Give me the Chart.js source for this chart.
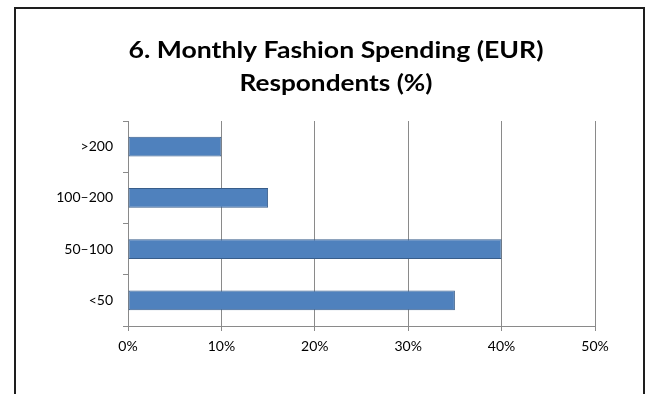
<!DOCTYPE html>
<html><head><meta charset="utf-8">
<script src="https://cdn.jsdelivr.net/npm/chart.js@4"></script>
<style>
html,body{margin:0;padding:0;background:#fff;}
#wrap{position:absolute;left:0;top:0;width:650px;height:394px;}
#frame{position:absolute;left:14px;top:7px;width:631px;height:400px;border:2px solid #1e1e1e;box-sizing:border-box;}
canvas{position:absolute;left:0;top:0;}
</style></head>
<body>
<div id="wrap"><div id="frame"></div><canvas id="c" width="650" height="394"></canvas></div>
<script>
const titleLines = ['6. Monthly Fashion Spending (EUR)', 'Respondents (%)'];
const categories = ['>200', '100–200', '50–100', '<50'];
const respondents = [10, 15, 40, 35];
const xTicks = [0, 10, 20, 30, 40, 50];

const titlePlugin = {
  id: 'wideTitle',
  afterDraw(chart) {
    const ctx = chart.ctx;
    const cx = 336;
    const baselines = [58, 91];
    const widths = [415, 193];
    ctx.save();
    ctx.fillStyle = '#000';
    ctx.font = 'bold 22px Lato';
    ctx.textAlign = 'center';
    ctx.textBaseline = 'alphabetic';
    titleLines.forEach((t, i) => {
      const w = ctx.measureText(t).width;
      const sx = widths[i] / w;
      ctx.save();
      ctx.translate(cx, baselines[i]);
      ctx.scale(sx, 1);
      ctx.fillText(t, 0, 0);
      ctx.restore();
    });
    ctx.restore();
  }
};

new Chart(document.getElementById('c'), {
  type: 'bar',
  data: {
    labels: categories,
    datasets: [{
      data: respondents,
      backgroundColor: '#4f81bd',
      borderColor: '#385d8a',
      borderWidth: 1,
      borderSkipped: false,
      categoryPercentage: 1,
      barPercentage: 0.39
    }]
  },
  options: {
    indexAxis: 'y',
    responsive: false,
    animation: false,
    layout: { padding: { left: 0, right: 55, top: 121, bottom: 0 } },
    plugins: {
      legend: { display: false },
      tooltip: { enabled: false },
      title: { display: false }
    },
    scales: {
      x: {
        min: 0, max: 50,
        afterBuildTicks: s => { s.ticks = xTicks.map(v => ({ value: v })); },
        afterFit: s => { s.height = 68; },
        ticks: { callback: v => v + '%', color: '#000', font: { family: 'Lato', size: 14 }, padding: 7 },
        grid: { color: '#8a8a8a', lineWidth: 1, tickLength: 5 },
        border: { color: '#8a8a8a', width: 1 }
      },
      y: {
        afterFit: s => { s.width = 128; },
        ticks: { color: '#000', font: { family: 'Lato', size: 14 }, padding: 10 },
        grid: { drawOnChartArea: false, color: '#8a8a8a', tickLength: 5, offset: true },
        border: { color: '#8a8a8a', width: 1 }
      }
    }
  },
  plugins: [titlePlugin]
});
</script>
</body></html>
